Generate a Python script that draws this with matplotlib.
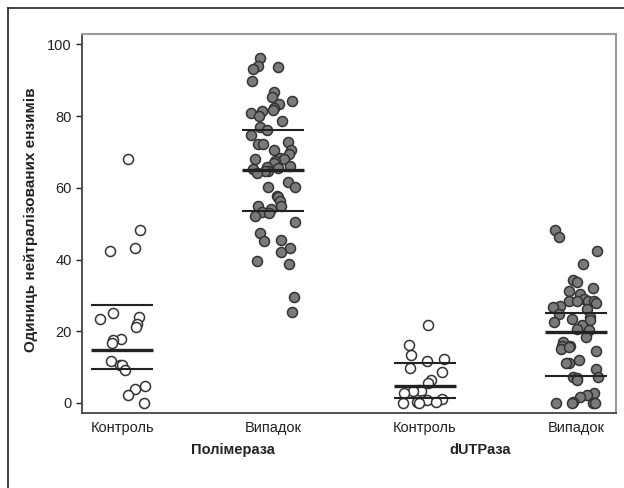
import numpy as np
import matplotlib
matplotlib.use('Agg')
from matplotlib import pyplot as plt
from matplotlib.lines import Line2D

plt.rcParams['font.family'] = ['Liberation Sans', 'DejaVu Sans']

# значення
kontrol_pol = [68.1, 48.3, 43.3, 42.4, 25.0, 23.9, 23.5, 22.0, 21.3, 17.9, 17.5, 16.7,
               11.7, 10.7, 10.5, 9.3, 4.6, 3.8, 2.2, 0.0]
vypadok_pol = [96.1, 94.0, 93.6, 93.0, 89.9, 86.8, 85.3, 84.3, 83.4, 82.4, 81.7, 81.4,
               80.8, 79.9, 78.5, 76.9, 76.2, 74.8, 72.7, 72.2, 72.2, 70.6, 70.6, 69.5,
               68.2, 68.1, 68.0, 67.5, 66.8, 66.1, 65.7, 65.5, 65.2, 64.8, 64.7, 64.1,
               61.7, 60.3, 60.3, 57.7, 57.5, 56.3, 55.0, 54.8, 54.1, 53.2, 52.9, 52.2,
               50.4, 47.3, 45.5, 45.2, 43.1, 42.0, 39.6, 38.8, 29.5, 25.3]
kontrol_dut = [21.8, 16.2, 13.4, 12.2, 11.8, 9.8, 8.6, 6.4, 5.5, 3.6, 3.4, 3.3, 2.7,
               1.0, 0.8, 0.8, 0.4, 0.4, 0.0, 0.0]
vypadok_dut = [48.3, 46.4, 42.5, 38.7, 34.3, 33.6, 32.0, 31.3, 30.4, 28.9, 28.3, 28.3,
               28.3, 28.5, 27.1, 27.8, 26.7, 26.1, 24.1, 24.8, 23.4, 23.0, 22.7, 21.8,
               20.4, 20.6, 18.3, 16.9, 15.9, 15.9, 15.0, 15.7, 14.6, 12.0, 11.1, 11.1,
               9.5, 7.3, 7.3, 7.1, 6.3, 2.9, 2.2, 1.8, 0.4, 0.1, 0.0, 0.0, 0.0]

mediana = [14.8, 65.0, 4.7, 19.8]
q1 = [9.5, 53.6, 1.4, 7.5]
q3 = [27.3, 76.2, 11.2, 25.1]

tick_labels = ['Контроль', 'Випадок', 'Контроль', 'Випадок']
grupy = ['Полімераза', 'dUTPаза']

dani = [kontrol_pol, vypadok_pol, kontrol_dut, vypadok_dut]
kolory = ['white', '#7a7a7a', 'white', '#7a7a7a']

fig = plt.figure(figsize=(6.24, 4.88), dpi=100)
ax = fig.add_axes([82/624, 1-413/488, 534/624, 379/488])

rng = np.random.default_rng(7)
for i, d in enumerate(dani):
    x = i + rng.uniform(-0.15, 0.15, len(d))
    ax.scatter(x, d, s=52, facecolor=kolory[i], edgecolor='#333333',
               linewidth=1.1, zorder=3)

w = 0.205
ax.hlines(mediana, np.arange(4) - w, np.arange(4) + w, color='#222222', lw=2.4, zorder=4)
ax.hlines(q1, np.arange(4) - w, np.arange(4) + w, color='#222222', lw=1.5, zorder=4)
ax.hlines(q3, np.arange(4) - w, np.arange(4) + w, color='#222222', lw=1.5, zorder=4)

ax.set_xlim(-0.265, 3.265)
ax.set_ylim(-2.8, 102.9)
ax.set_yticks([0, 20, 40, 60, 80, 100])
ax.set_xticks(range(4))
ax.set_xticklabels(tick_labels)
ax.tick_params(axis='x', length=0, labelsize=10.5, pad=6, colors='#222222')
ax.tick_params(axis='y', length=4, width=1, labelsize=10.5, colors='#222222')

for s in ['left', 'bottom']:
    ax.spines[s].set_color('#444444')
    ax.spines[s].set_linewidth(1.3)
for s in ['top', 'right']:
    ax.spines[s].set_color('#999999')
    ax.spines[s].set_linewidth(1.5)

ax.text(0.73, -0.098, grupy[0], transform=ax.get_xaxis_transform(), ha='center',
        va='center', fontsize=10.5, fontweight='bold', color='#222222')
ax.text(2.37, -0.098, grupy[1], transform=ax.get_xaxis_transform(), ha='center',
        va='center', fontsize=10.5, fontweight='bold', color='#222222')

fig.text(31/624, 1-220/488, 'Одиниць нейтралізованих ензимів', rotation=90,
         ha='center', va='center', fontsize=11, fontweight='bold', color='#222222')

# рамка навколо малюнка
fig.add_artist(Line2D([7.5/624, 7.5/624], [0, 1-7.5/488], transform=fig.transFigure,
                      color='#222222', lw=1.2))
fig.add_artist(Line2D([7.5/624, 1], [1-7.5/488, 1-7.5/488], transform=fig.transFigure,
                      color='#222222', lw=1.2))

plt.savefig('out.png', dpi=100)
